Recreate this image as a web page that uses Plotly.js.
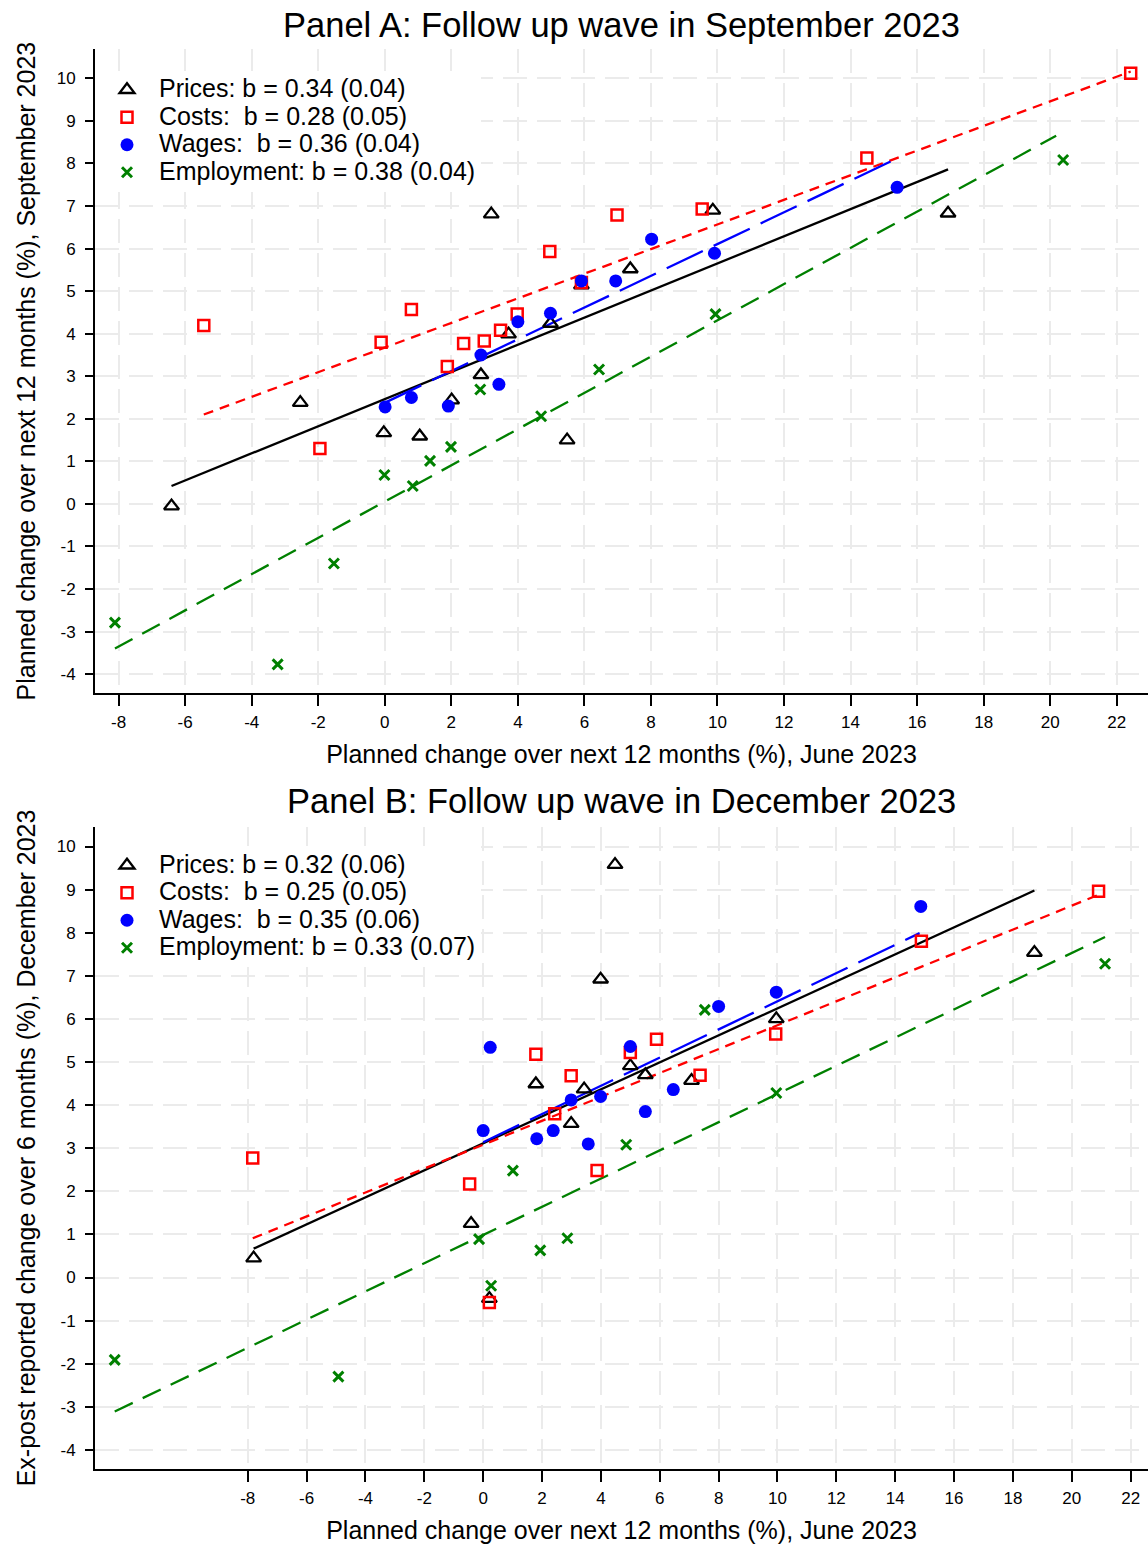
<!DOCTYPE html>
<html>
<head>
<meta charset="utf-8">
<script src="https://cdn.plot.ly/plotly-3.0.1.min.js"></script>
<style>html,body{margin:0;padding:0;background:#fff;}#chart{width:1148px;height:1546px;}</style>
</head>
<body>
<div id="chart"></div>
<script>
// ---------- Panel A data (June 2023 plan vs September 2023 plan) ----------
const a_prices_x = [-6.41, -2.54, -0.03, 1.05, 2.01, 2.89, 3.20, 3.72, 4.98, 5.48, 5.91, 7.38, 9.86, 16.93];
const a_prices_y = [-0.05, 2.38, 1.67, 1.59, 2.44, 3.03, 6.81, 3.99, 4.24, 1.50, 5.14, 5.52, 6.90, 6.83];
const a_costs_x = [-5.44, -1.95, -0.11, 0.80, 1.88, 2.37, 2.99, 3.48, 3.98, 4.96, 5.91, 6.98, 9.54, 14.49, 22.42];
const a_costs_y = [4.19, 1.30, 3.80, 4.57, 3.23, 3.77, 3.83, 4.08, 4.46, 5.93, 5.20, 6.79, 6.93, 8.13, 10.12];
const a_wages_x = [0.01, 0.80, 1.91, 2.89, 3.43, 4.00, 4.98, 5.91, 6.94, 8.02, 9.91, 15.40];
const a_wages_y = [2.28, 2.50, 2.30, 3.50, 2.81, 4.28, 4.48, 5.24, 5.24, 6.22, 5.89, 7.44];
const a_emp_x = [-8.11, -3.22, -1.53, -0.01, 0.84, 1.36, 1.99, 2.87, 4.70, 6.44, 9.94, 20.39];
const a_emp_y = [-2.79, -3.77, -1.40, 0.68, 0.42, 1.01, 1.34, 2.69, 2.06, 3.16, 4.46, 8.08];
// fitted lines, panel A (end points)
const a_prices_fit_x = [-6.41, 16.93], a_prices_fit_y = [0.42, 7.86];
const a_costs_fit_x = [-5.44, 22.42], a_costs_fit_y = [2.10, 10.16];
const a_wages_fit_x = [0.01, 15.40], a_wages_fit_y = [2.38, 8.12];
const a_emp_fit_x = [-8.11, 20.18], a_emp_fit_y = [-3.40, 8.65];
const a_labels = ['Prices: b = 0.34 (0.04)', 'Costs:\u00a0 b = 0.28 (0.05)', 'Wages:\u00a0 b = 0.36 (0.04)', 'Employment: b = 0.38 (0.04)'];

// ---------- Panel B data (June 2023 plan vs December 2023 ex-post) ----------
const b_prices_x = [-7.80, -0.41, 0.21, 1.79, 2.99, 3.43, 3.99, 4.48, 5.00, 5.51, 7.08, 9.96, 18.73];
const b_prices_y = [0.45, 1.25, -0.49, 4.49, 3.57, 4.37, 6.92, 9.58, 4.91, 4.70, 4.57, 6.00, 7.54];
const b_costs_x = [-7.83, -0.46, 0.21, 1.79, 2.43, 2.99, 3.87, 5.00, 5.89, 7.37, 9.94, 14.89, 20.91];
const b_costs_y = [2.77, 2.17, -0.58, 5.18, 3.80, 4.68, 2.48, 5.22, 5.53, 4.69, 5.65, 7.80, 8.96];
const b_wages_x = [0.00, 0.24, 1.82, 2.38, 2.99, 3.57, 3.99, 5.00, 5.51, 6.46, 8.00, 9.96, 14.87];
const b_wages_y = [3.41, 5.34, 3.22, 3.41, 4.12, 3.10, 4.20, 5.36, 3.85, 4.36, 6.29, 6.62, 8.61];
const b_emp_x = [-12.52, -4.92, -0.14, 0.27, 1.01, 1.94, 2.86, 4.86, 7.53, 9.96, 21.13];
const b_emp_y = [-1.91, -2.30, 0.89, -0.19, 2.48, 0.63, 0.91, 3.08, 6.21, 4.28, 7.28];
const b_prices_fit_x = [-7.80, 18.73], b_prices_fit_y = [0.67, 8.98];
const b_costs_fit_x = [-7.83, 20.91], b_costs_fit_y = [0.91, 8.88];
const b_wages_fit_x = [0.00, 14.83], b_wages_fit_y = [3.14, 7.99];
const b_emp_fit_x = [-12.52, 21.13], b_emp_fit_y = [-3.11, 7.90];
const b_labels = ['Prices: b = 0.32 (0.06)', 'Costs:\u00a0 b = 0.25 (0.05)', 'Wages:\u00a0 b = 0.35 (0.06)', 'Employment: b = 0.33 (0.07)'];

// ---------- axis ticks and texts ----------
const x_ticks = [-8, -6, -4, -2, 0, 2, 4, 6, 8, 10, 12, 14, 16, 18, 20, 22];
const x_tick_text = ['-8', '-6', '-4', '-2', '0', '2', '4', '6', '8', '10', '12', '14', '16', '18', '20', '22'];
const y_ticks = [-4, -3, -2, -1, 0, 1, 2, 3, 4, 5, 6, 7, 8, 9, 10];
const y_tick_text = ['-4', '-3', '-2', '-1', '0', '1', '2', '3', '4', '5', '6', '7', '8', '9', '10'];
const titleA = 'Panel A: Follow up wave in September 2023';
const titleB = 'Panel B: Follow up wave in December 2023';
const xTitle = 'Planned change over next 12 months (%), June 2023';
const yTitleA = 'Planned change over next 12 months (%), September 2023';
const yTitleB = 'Ex-post reported change over 6 months (%), December 2023';

const FONT = '"Liberation Sans", Arial, Helvetica, sans-serif';
const COL = {prices: '#000000', costs: '#ff0000', wages: '#0000ff', emp: '#008000'};

function fitLine(x, y, color, dash, xa, ya) {
  return {type: 'scatter', mode: 'lines', x: x, y: y, xaxis: xa, yaxis: ya,
    line: {color: color, width: 2.3, dash: dash}, showlegend: false, hoverinfo: 'skip'};
}
function pts(x, y, name, sym, xa, ya, leg) {
  const m = {prices: {symbol: 'triangle-up-open', size: 13, color: COL.prices, line: {width: 2.3, color: COL.prices}},
             costs: {symbol: 'square-open', size: 11, color: COL.costs, line: {width: 2.5, color: COL.costs}},
             wages: {symbol: 'circle', size: 13, color: COL.wages, line: {width: 0}},
             emp: {symbol: 'x-thin', size: 10, color: COL.emp, line: {width: 3, color: COL.emp}}}[sym];
  return {type: 'scatter', mode: 'markers', x: x, y: y, xaxis: xa, yaxis: ya,
    name: '<span style="font-size:25px">' + name + '</span>',
    marker: m, legend: leg, showlegend: true};
}

const traces = [
  fitLine(a_prices_fit_x, a_prices_fit_y, COL.prices, 'solid', 'x', 'y'),
  fitLine(a_costs_fit_x, a_costs_fit_y, COL.costs, '10px,7px', 'x', 'y'),
  fitLine(a_wages_fit_x, a_wages_fit_y, COL.wages, '40px,12px', 'x', 'y'),
  fitLine(a_emp_fit_x, a_emp_fit_y, COL.emp, '20px,11px', 'x', 'y'),
  pts(a_prices_x, a_prices_y, a_labels[0], 'prices', 'x', 'y', 'legend'),
  pts(a_costs_x, a_costs_y, a_labels[1], 'costs', 'x', 'y', 'legend'),
  pts(a_wages_x, a_wages_y, a_labels[2], 'wages', 'x', 'y', 'legend'),
  pts(a_emp_x, a_emp_y, a_labels[3], 'emp', 'x', 'y', 'legend'),
  fitLine(b_prices_fit_x, b_prices_fit_y, COL.prices, 'solid', 'x2', 'y2'),
  fitLine(b_costs_fit_x, b_costs_fit_y, COL.costs, '10px,7px', 'x2', 'y2'),
  fitLine(b_wages_fit_x, b_wages_fit_y, COL.wages, '40px,12px', 'x2', 'y2'),
  fitLine(b_emp_fit_x, b_emp_fit_y, COL.emp, '20px,11px', 'x2', 'y2'),
  pts(b_prices_x, b_prices_y, b_labels[0], 'prices', 'x2', 'y2', 'legend2'),
  pts(b_costs_x, b_costs_y, b_labels[1], 'costs', 'x2', 'y2', 'legend2'),
  pts(b_wages_x, b_wages_y, b_labels[2], 'wages', 'x2', 'y2', 'legend2'),
  pts(b_emp_x, b_emp_y, b_labels[3], 'emp', 'x2', 'y2', 'legend2')
];

function xAxis(range, anchor) {
  return {domain: [0, 1], range: range, anchor: anchor, tickmode: 'array', tickvals: x_ticks, ticktext: x_tick_text,
    showline: true, linecolor: '#000', linewidth: 2, ticks: 'outside', ticklen: 11, tickwidth: 2, tickcolor: '#000',
    ticklabelstandoff: 1, tickfont: {size: 17, family: FONT, color: '#000'},
    showgrid: true, gridcolor: '#ebebeb', gridwidth: 2, griddash: '24px,10px', zeroline: false,
    title: {text: xTitle, font: {size: 25, family: FONT, color: '#000'}, standoff: 15}};
}
function yAxis(domain, range, anchor, title) {
  return {domain: domain, range: range, anchor: anchor, tickmode: 'array', tickvals: y_ticks, ticktext: y_tick_text,
    showline: true, linecolor: '#000', linewidth: 2, ticks: 'outside', ticklen: 8, tickwidth: 2, tickcolor: '#000',
    ticklabelstandoff: 6, tickfont: {size: 17, family: FONT, color: '#000'},
    showgrid: true, gridcolor: '#ebebeb', gridwidth: 2, griddash: '24px,10px', zeroline: false,
    title: {text: title, font: {size: 25, family: FONT, color: '#000'}, standoff: 14}};
}
const legendStyle = {xanchor: 'left', yanchor: 'top', bgcolor: '#ffffff', borderwidth: 0, itemwidth: 54,
  font: {size: 18.85, family: FONT, color: '#000'}, tracegroupgap: 0, traceorder: 'normal'};

const layout = {
  width: 1148, height: 1546,
  margin: {l: 95, r: 0, t: 0, b: 0},
  paper_bgcolor: '#fff', plot_bgcolor: '#fff',
  font: {family: FONT, color: '#000'},
  showlegend: true,
  xaxis: xAxis([-8.71, 22.94], 'y'),
  yaxis: yAxis([0.55156, 0.96831], [-4.45, 10.69], 'x', yTitleA),
  xaxis2: xAxis([-13.19, 22.59], 'y2'),
  yaxis2: yAxis([0.04961, 0.46527], [-4.45, 10.46], 'x2', yTitleB),
  legend: Object.assign({x: 0.0, y: 0.95408}, legendStyle),
  legend2: Object.assign({x: 0.0, y: 0.45246}, legendStyle),
  annotations: [
    {text: titleA, xref: 'paper', yref: 'paper', x: 0.5, y: 1 - 25 / 1546, xanchor: 'center', yanchor: 'middle',
     showarrow: false, font: {size: 34.5, family: FONT, color: '#000'}},
    {text: titleB, xref: 'paper', yref: 'paper', x: 0.5, y: 1 - 801 / 1546, xanchor: 'center', yanchor: 'middle',
     showarrow: false, font: {size: 34.5, family: FONT, color: '#000'}}
  ]
};

Plotly.newPlot('chart', traces, layout, {displayModeBar: false, staticPlot: true});
</script>
</body>
</html>
